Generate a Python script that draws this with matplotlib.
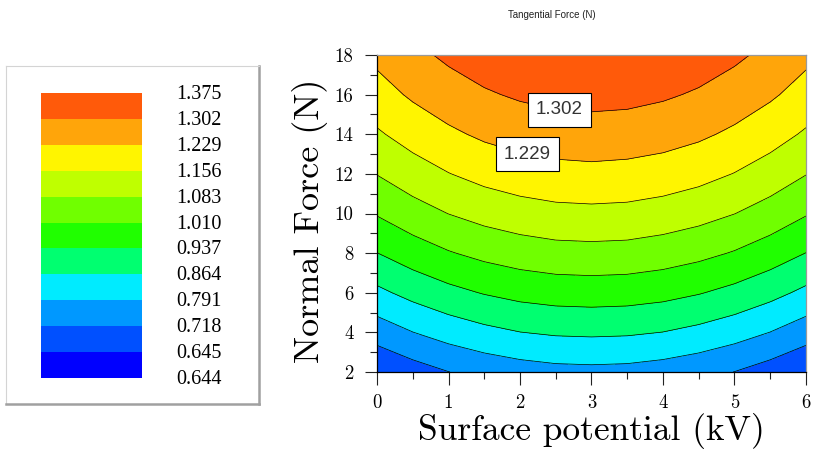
import matplotlib.pyplot as plt
import numpy as np
from matplotlib.patches import Rectangle

plt.rcParams['font.family'] = ['cmr10', 'DejaVu Serif']
plt.rcParams['axes.formatter.use_mathtext'] = True

# surface potential (kV) columns and normal force (N) rows of the response surface
potential = [0.0, 0.5, 1.0, 1.5, 2.0, 2.5, 3.0, 3.5, 4.0, 4.5, 5.0, 5.5, 6.0]
normal_force = [2, 4, 6, 8, 10, 12, 14, 16, 18]

# tangential force (N), one row per normal force
tangential = [
    [0.648, 0.686, 0.717, 0.741, 0.758, 0.769, 0.772, 0.769, 0.758, 0.741, 0.717, 0.686, 0.648],
    [0.752, 0.790, 0.821, 0.845, 0.863, 0.873, 0.876, 0.873, 0.863, 0.845, 0.821, 0.790, 0.752],
    [0.848, 0.886, 0.917, 0.941, 0.959, 0.969, 0.972, 0.969, 0.959, 0.941, 0.917, 0.886, 0.848],
    [0.936, 0.974, 1.005, 1.029, 1.046, 1.057, 1.060, 1.057, 1.046, 1.029, 1.005, 0.974, 0.936],
    [1.015, 1.053, 1.084, 1.108, 1.125, 1.136, 1.139, 1.136, 1.125, 1.108, 1.084, 1.053, 1.015],
    [1.085, 1.123, 1.154, 1.179, 1.196, 1.206, 1.210, 1.206, 1.196, 1.179, 1.154, 1.123, 1.085],
    [1.147, 1.185, 1.216, 1.241, 1.258, 1.268, 1.272, 1.268, 1.258, 1.241, 1.216, 1.185, 1.147],
    [1.201, 1.239, 1.270, 1.294, 1.311, 1.322, 1.325, 1.322, 1.311, 1.294, 1.270, 1.239, 1.201],
    [1.246, 1.284, 1.315, 1.339, 1.357, 1.367, 1.370, 1.367, 1.357, 1.339, 1.315, 1.284, 1.246],
]

levels = [0.644, 0.645, 0.718, 0.791, 0.864, 0.937, 1.010, 1.083, 1.156, 1.229, 1.302, 1.375]
band_colors = ['#0000FF', '#0050FF', '#0098FF', '#00EBFF', '#00FF70', '#20FF00',
               '#70FF00', '#BFFF00', '#FFF500', '#FFA50A', '#FF5A0A']
labelled_levels = [1.229, 1.302]
label_spots = [(2.1, 12.9), (2.55, 15.1)]

fig = plt.figure(figsize=(8.14, 4.54), dpi=100)

# main contour plot
ax = fig.add_axes([377 / 814, 82 / 454, 429 / 814, 317 / 454])
X, Y = np.meshgrid(potential, normal_force)
Z = np.array(tangential)
ax.contourf(X, Y, Z, levels=levels, colors=band_colors)
line_levels = [lv for lv in levels[2:-1] if lv not in labelled_levels]
ax.contour(X, Y, Z, levels=line_levels, colors='black', linewidths=0.5)
cs_lab = ax.contour(X, Y, Z, levels=labelled_levels, colors='black', linewidths=0.5)
texts = ax.clabel(cs_lab, manual=label_spots, inline=False, fmt='%.3f', fontsize=13.5)
for t in texts:
    t.set_rotation(0)
    t.set_family('Liberation Sans')
    t.set_color('#333333')
    t.set_bbox(dict(boxstyle='square,pad=0.45', fc='white', ec='black', lw=0.8))

ax.set_xlim(0, 6)
ax.set_ylim(2, 18)
ax.set_xticks(range(0, 7))
ax.set_xticks(np.arange(0.5, 6, 1), minor=True)
ax.set_yticks(range(2, 19, 2))
ax.set_yticks(range(3, 18, 2), minor=True)
ax.set_xticklabels([str(v) for v in range(0, 7)])
ax.set_yticklabels([str(v) for v in range(2, 19, 2)])
ax.tick_params(which='major', direction='out', length=9, width=0.8, color='#222222',
               labelsize=13.5)
ax.tick_params(axis='x', which='major', pad=7)
ax.tick_params(axis='y', which='major', pad=8)
ax.tick_params(which='minor', direction='out', length=5, width=0.8, color='#222222')
for side in ['top', 'right']:
    ax.spines[side].set_color('#9a9a9a')
for side in ['left', 'bottom']:
    ax.spines[side].set_color('black')
for s in ax.spines.values():
    s.set_linewidth(0.9)

ax.set_xlabel('Surface potential (kV)', fontsize=25.5, va='baseline')
ax.xaxis.set_label_coords(0.5, -(440 - 372) / 317)
ax.set_ylabel('Normal Force (N)', fontsize=26, va='center', ha='center')
ax.yaxis.set_label_coords((310 - 377) / 429, (372 - 221) / 317)

fig.text(551.5 / 814, 1 - 15 / 454, 'Tangential Force (N)', ha='center', va='center',
         fontsize=7, family='Liberation Sans', color='#222222')

# legend box with one swatch per band
lax = fig.add_axes([6 / 814, 50 / 454, 253 / 814, 338 / 454])
lax.set_xlim(0, 253)
lax.set_ylim(338, 0)
lax.set_xticks([])
lax.set_yticks([])
for side in ['left', 'top']:
    lax.spines[side].set_color('#d4d4d4')
for side in ['right', 'bottom']:
    lax.spines[side].set_color('#a0a0a0')
    lax.spines[side].set_linewidth(1.8)

sw_top, sw_bot = 27.3, 311.7
sw_h = (sw_bot - sw_top) / (len(levels) - 1)
for i, c in enumerate(band_colors[::-1]):
    lax.add_patch(Rectangle((34.7, sw_top + i * sw_h), 101, sw_h, fc=c, ec='none'))
for i, lv in enumerate(levels[::-1]):
    lax.text(170.5, sw_top + i * sw_h + 1.5, f'{lv:.3f}', ha='left', va='center',
             fontsize=14.5, family='Liberation Serif', color='black')

fig.savefig('out.png', dpi=100)
